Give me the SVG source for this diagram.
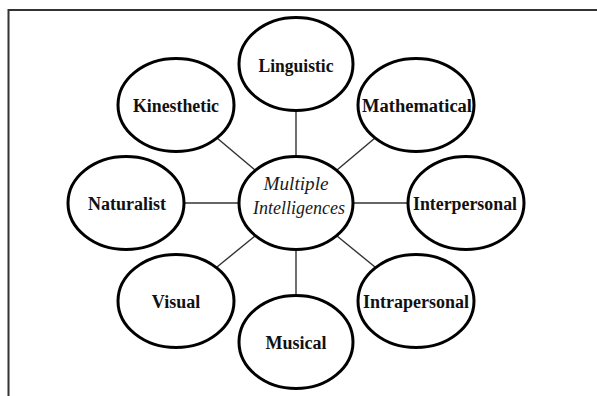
<svg xmlns="http://www.w3.org/2000/svg" width="597" height="396" viewBox="0 0 597 396">
<style>
.node ellipse{fill:#fff;stroke:#000;stroke-width:3}
.node text{font-family:"Liberation Serif","Times New Roman",serif;font-weight:bold;font-size:18px;fill:#111;text-anchor:middle}
.center text{font-family:"Liberation Serif","Times New Roman",serif;font-style:italic;font-weight:normal;font-size:19px;fill:#1a1a1a;text-anchor:middle}
#connectors line{stroke:#333;stroke-width:1.4}
</style>
<rect width="597" height="396" fill="#fff"/>
<path d="M8.5 400 V10 H600" fill="none" stroke="#333" stroke-width="2"/>
<g id="connectors">
<line x1="296" y1="111" x2="296" y2="156"/>
<line x1="296" y1="250" x2="296" y2="295"/>
<line x1="185" y1="203" x2="239" y2="203"/>
<line x1="353" y1="203" x2="408" y2="203"/>
<line x1="217" y1="138" x2="255" y2="170"/>
<line x1="375" y1="138" x2="337" y2="170"/>
<line x1="217" y1="267" x2="255" y2="236"/>
<line x1="375" y1="267" x2="337" y2="236"/>
</g>
<g id="center" class="node center">
<ellipse cx="296" cy="203" rx="57" ry="46.5"/>
<text x="296" y="190" textLength="65" lengthAdjust="spacingAndGlyphs">Multiple</text>
<text x="299" y="214" textLength="92" lengthAdjust="spacingAndGlyphs">Intelligences</text>
</g>
<g id="linguistic" class="node">
<ellipse cx="296" cy="64" rx="57" ry="46.5"/>
<text x="296" y="72" textLength="75" lengthAdjust="spacingAndGlyphs">Linguistic</text>
</g>
<g id="kinesthetic" class="node">
<ellipse cx="176" cy="105" rx="58" ry="46.5"/>
<text x="176" y="112" textLength="86" lengthAdjust="spacingAndGlyphs">Kinesthetic</text>
</g>
<g id="mathematical" class="node">
<ellipse cx="416" cy="105" rx="58" ry="46.5"/>
<text x="417" y="112" textLength="110" lengthAdjust="spacingAndGlyphs">Mathematical</text>
</g>
<g id="naturalist" class="node">
<ellipse cx="126" cy="203" rx="58" ry="46.5"/>
<text x="127" y="210">Naturalist</text>
</g>
<g id="interpersonal" class="node">
<ellipse cx="466" cy="203" rx="58" ry="46.5"/>
<text x="465" y="210" textLength="104" lengthAdjust="spacingAndGlyphs">Interpersonal</text>
</g>
<g id="visual" class="node">
<ellipse cx="176" cy="301" rx="58" ry="46.5"/>
<text x="176" y="308">Visual</text>
</g>
<g id="intrapersonal" class="node">
<ellipse cx="416" cy="301" rx="58" ry="46.5"/>
<text x="416" y="308" textLength="106" lengthAdjust="spacingAndGlyphs">Intrapersonal</text>
</g>
<g id="musical" class="node">
<ellipse cx="296" cy="342" rx="57" ry="46.5"/>
<text x="296" y="349">Musical</text>
</g>
</svg>
